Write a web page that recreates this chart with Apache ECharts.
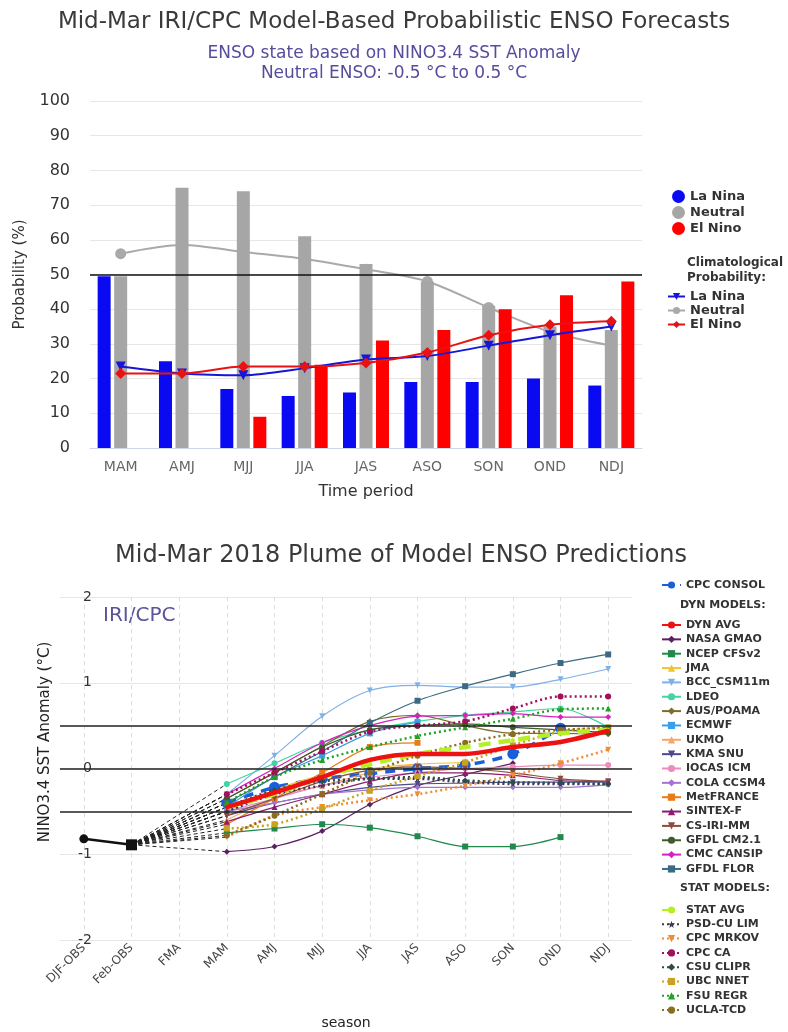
<!DOCTYPE html>
<html>
<head>
<meta charset="UTF-8">
<script src="https://cdn.jsdelivr.net/npm/echarts@6/dist/echarts.min.js"></script>
<style>
  html, body { margin: 0; padding: 0; background: #fff; }
  #main { width: 788px; height: 1032px; }
</style>
</head>
<body>
<div id="main"></div>
<script>
// ---- top chart: probabilities (%) ----
const periods = ['MAM', 'AMJ', 'MJJ', 'JJA', 'JAS', 'ASO', 'SON', 'OND', 'NDJ'];
const laNina  = [49.5, 25, 17, 15, 16, 19, 19, 20, 18];
const neutral = [49.5, 75, 74, 61, 53, 48, 41, 35, 34];
const elNino  = [0, 0, 9, 24, 31, 34, 40, 44, 48];
const climLaNina  = [23.5, 21.5, 21, 23, 25.5, 26.5, 29.5, 32.5, 35];
const climNeutral = [56, 58.5, 56.5, 54.5, 51.5, 48, 40.5, 33.5, 29.5];
const climElNino  = [21.5, 21.5, 23.5, 23.5, 24.5, 27.5, 32.5, 35.5, 36.5];

// ---- bottom chart: plume (deg C), forecasts MAM..NDJ ----
const seasons = ['DJF-OBS', 'Feb-OBS', 'FMA', 'MAM', 'AMJ', 'MJJ', 'JJA', 'JAS', 'ASO', 'SON', 'OND', 'NDJ'];
const obs = [-0.82, -0.89];

const cpcConsol  = [-0.40, -0.22, -0.12, -0.06, 0.00, 0.04, 0.17, 0.47, null];
const dynAvg     = [-0.45, -0.28, -0.10, 0.10, 0.17, 0.17, 0.25, 0.31, 0.44];
const nasaGmao   = [-0.97, -0.91, -0.73, -0.42, -0.20, -0.07, 0.06, null, null];
const ncepCfs    = [-0.75, -0.70, -0.65, -0.69, -0.79, -0.91, -0.91, -0.80, null];
const jma        = [-0.50, -0.25, -0.08, 0.00, 0.05, 0.07, null, null, null];
const bcc        = [-0.30, 0.15, 0.61, 0.91, 0.97, 0.95, 0.95, 1.04, 1.16];
const ldeo       = [-0.18, 0.06, 0.30, 0.45, 0.55, 0.62, 0.66, 0.70, 0.48];
const ausPoama   = [-0.35, -0.05, 0.26, 0.55, 0.62, 0.50, 0.41, 0.41, 0.40];
const ecmwf      = [-0.45, -0.10, 0.15, 0.41, 0.54, null, null, null, null];
const ukmo       = [-0.60, -0.35, -0.20, -0.05, 0.05, null, null, null, null];
const kmaSnu     = [-0.55, -0.40, -0.30, -0.22, -0.18, -0.17, -0.16, -0.16, -0.16];
const iocas      = [-0.50, -0.35, -0.20, -0.10, -0.05, 0.00, 0.02, 0.04, 0.04];
const colaCcsm4  = [-0.50, -0.40, -0.30, -0.25, -0.22, -0.22, -0.22, -0.22, -0.19];
const metFrance  = [-0.65, -0.35, -0.05, 0.25, 0.30, null, null, null, null];
const sintexF    = [-0.62, -0.45, -0.30, -0.15, -0.05, -0.05, -0.08, -0.14, -0.15];
const csIriMm    = [-0.55, -0.35, -0.15, -0.02, 0.02, 0.00, -0.05, -0.12, -0.15];
const gfdlCm21   = [-0.35, -0.05, 0.25, 0.45, 0.50, 0.52, 0.48, 0.45, 0.42];
const cmcCansip  = [-0.30, 0.00, 0.30, 0.50, 0.61, 0.62, 0.64, 0.60, 0.60];
const gfdlFlor   = [-0.40, -0.10, 0.20, 0.53, 0.79, 0.96, 1.10, 1.23, 1.33];
const statAvg    = [-0.45, -0.30, -0.10, 0.05, 0.17, 0.25, 0.33, 0.41, 0.45];
const psdCuLim   = [-0.50, -0.30, -0.20, -0.12, -0.12, -0.16, -0.18, -0.18, -0.18];
const cpcMrkov   = [-0.80, -0.55, -0.45, -0.37, -0.30, -0.20, -0.08, 0.06, 0.22];
const cpcCa      = [-0.30, -0.05, 0.20, 0.43, 0.50, 0.55, 0.70, 0.84, 0.84];
const csuClipr   = [-0.45, -0.25, -0.15, -0.12, -0.10, -0.14, -0.16, -0.17, -0.18];
const ubcNnet    = [-0.70, -0.65, -0.47, -0.26, -0.09, 0.07, 0.27, 0.43, 0.48];
const fsuRegr    = [-0.40, -0.10, 0.10, 0.25, 0.38, 0.48, 0.58, 0.69, 0.70];
const uclaTcd    = [-0.78, -0.55, -0.30, -0.05, 0.15, 0.30, 0.40, 0.45, 0.47];

const star = 'path://M5,0 L6.2,3.6 L10,3.6 L7,5.9 L8.1,9.5 L5,7.3 L1.9,9.5 L3,5.9 L0,3.6 L3.8,3.6 Z';

// name, values, color, symbol, kind
const plume = [
  ['CPC CONSOL', cpcConsol, '#1a5fd8', 'circle', 'consol'],
  ['DYN AVG', dynAvg, '#ee1111', 'circle', 'avg'],
  ['NASA GMAO', nasaGmao, '#5b1f63', 'diamond', 'dyn'],
  ['NCEP CFSv2', ncepCfs, '#1f8a4c', 'rect', 'dyn'],
  ['JMA', jma, '#f2c230', 'triangle', 'dyn'],
  ['BCC_CSM11m', bcc, '#7fb0e8', 'down', 'dyn'],
  ['LDEO', ldeo, '#3fd6a0', 'circle', 'dyn'],
  ['AUS/POAMA', ausPoama, '#7d6c2a', 'diamond', 'dyn'],
  ['ECMWF', ecmwf, '#3a9fe8', 'rect', 'dyn'],
  ['UKMO', ukmo, '#f5a66c', 'triangle', 'dyn'],
  ['KMA SNU', kmaSnu, '#4a4a8c', 'down', 'dyn'],
  ['IOCAS ICM', iocas, '#ea8cbc', 'circle', 'dyn'],
  ['COLA CCSM4', colaCcsm4, '#a474d2', 'diamond', 'dyn'],
  ['MetFRANCE', metFrance, '#e87b1c', 'rect', 'dyn'],
  ['SINTEX-F', sintexF, '#8c1c6c', 'triangle', 'dyn'],
  ['CS-IRI-MM', csIriMm, '#8c4c3c', 'down', 'dyn'],
  ['GFDL CM2.1', gfdlCm21, '#3c5c2c', 'circle', 'dyn'],
  ['CMC CANSIP', cmcCansip, '#d422c2', 'diamond', 'dyn'],
  ['GFDL FLOR', gfdlFlor, '#3c6a82', 'rect', 'dyn'],
  ['STAT AVG', statAvg, '#b4f024', 'circle', 'statavg'],
  ['PSD-CU LIM', psdCuLim, '#3a3a4c', star, 'stat'],
  ['CPC MRKOV', cpcMrkov, '#f08c32', 'down', 'stat'],
  ['CPC CA', cpcCa, '#a2105c', 'circle', 'stat'],
  ['CSU CLIPR', csuClipr, '#2c4c4c', 'diamond', 'stat'],
  ['UBC NNET', ubcNnet, '#c8a222', 'rect', 'stat'],
  ['FSU REGR', fsuRegr, '#22a222', 'triangle', 'stat'],
  ['UCLA-TCD', uclaTcd, '#8c6c22', 'circle', 'stat']
];

const font = 'DejaVu Sans';
const pad = seasons.length - periods.length;

function plumeSeries(p) {
  const [name, vals, color, symbol, kind] = p;
  const s = {
    name, type: 'line', xAxisIndex: 1, yAxisIndex: 1,
    data: new Array(pad).fill(null).concat(vals),
    smooth: 0.3, symbol: symbol === 'down' ? 'triangle' : symbol,
    symbolRotate: symbol === 'down' ? 180 : 0,
    symbolSize: 6, color, z: 3,
    lineStyle: { width: 1.2, color },
    itemStyle: { color }
  };
  if (kind === 'stat') { s.lineStyle.type = [2, 3]; s.lineStyle.width = 2.5; s.z = 4; }
  if (kind === 'avg') { s.lineStyle.width = 4.5; s.symbolSize = 4; s.z = 6; }
  if (kind === 'statavg') { s.lineStyle.width = 4.5; s.lineStyle.type = [12, 8]; s.symbolSize = 4; s.z = 5; }
  if (kind === 'consol') { s.lineStyle.width = 3.5; s.lineStyle.type = [10, 8]; s.symbolSize = 11; s.z = 3; }
  return s;
}

// dashed connectors from last observation to each model's first forecast
const connectors = plume.map((p, i) => ({
  name: '_c' + i, type: 'line', xAxisIndex: 1, yAxisIndex: 1, silent: true,
  data: seasons.map((s, k) => k === 1 ? obs[1] : (k === pad ? p[1][0] : null)),
  connectNulls: true, symbol: 'none', z: 2,
  lineStyle: { color: '#222', width: 1, type: [4, 3] }
}));

const chart = echarts.init(document.getElementById('main'));
const legendText = { fontFamily: font, fontWeight: 'bold', fontSize: 13, color: '#333', lineHeight: 13 };
const smallLegendText = { fontFamily: font, fontWeight: 'bold', fontSize: 11, color: '#333', lineHeight: 12 };

chart.setOption({
  animation: false,
  textStyle: { fontFamily: font },
  title: [
    { text: 'Mid-Mar IRI/CPC Model-Based Probabilistic ENSO Forecasts', left: 'center', top: 6,
      textStyle: { fontFamily: font, fontWeight: 'normal', fontSize: 23, color: '#3a3a3a' },
      subtext: 'ENSO state based on NINO3.4 SST Anomaly\nNeutral ENSO: -0.5 °C to 0.5 °C', itemGap: 10,
      subtextStyle: { fontFamily: font, fontSize: 17, lineHeight: 20, color: '#554c9e', align: 'center' } },
    { text: 'Mid-Mar 2018 Plume of Model ENSO Predictions', left: 110, top: 539,
      textStyle: { fontFamily: font, fontWeight: 'normal', fontSize: 24, color: '#3a3a3a' } }
  ],
  legend: [
    { data: ['La Nina', 'Neutral', 'El Nino'], orient: 'vertical', left: 667, top: 185,
      icon: 'circle', itemWidth: 13, itemHeight: 13, itemGap: 3, textStyle: legendText },
    { data: ['Clim La Nina', 'Clim Neutral', 'Clim El Nino'], orient: 'vertical', left: 662, top: 285,
      itemWidth: 17, itemHeight: 9, itemGap: 1, textStyle: legendText,
      formatter: n => n.replace('Clim ', '') },
    { data: ['CPC CONSOL'], orient: 'vertical', left: 656, top: 574,
      itemWidth: 19, itemHeight: 9, textStyle: smallLegendText },
    { data: plume.slice(1, 19).map(p => p[0]), orient: 'vertical', left: 656, top: 614,
      itemWidth: 19, itemHeight: 9, itemGap: 2.35, textStyle: smallLegendText },
    { data: plume.slice(19).map(p => p[0]), orient: 'vertical', left: 656, top: 899,
      itemWidth: 19, itemHeight: 9, itemGap: 2.3, textStyle: smallLegendText }
  ],
  graphic: [
    { type: 'text', left: 687, top: 255,
      style: { text: 'Climatological\nProbability:', font: 'bold 12px DejaVu Sans', lineHeight: 15, fill: '#333' } },
    { type: 'text', left: 680, top: 600,
      style: { text: 'DYN MODELS:', font: 'bold 11px DejaVu Sans', fill: '#333' } },
    { type: 'text', left: 680, top: 883,
      style: { text: 'STAT MODELS:', font: 'bold 11px DejaVu Sans', fill: '#333' } },
    { type: 'text', left: 103, top: 606,
      style: { text: 'IRI/CPC', font: '20px DejaVu Sans', fill: '#5b5498' } },
    { type: 'text', x: 45, y: 742, rotation: Math.PI / 2,
      style: { text: 'NINO3.4 SST Anomaly (°C)', font: '15px DejaVu Sans', fill: '#222', align: 'center', verticalAlign: 'middle' } }
  ],
  grid: [
    { left: 90, right: 146, top: 101, height: 347 },
    { left: 60, right: 156, top: 597, height: 343 }
  ],
  xAxis: [
    { type: 'category', gridIndex: 0, data: periods,
      axisLine: { lineStyle: { color: '#ccd6eb' } },
      axisTick: { length: 10, lineStyle: { color: '#ccd6eb' } },
      axisLabel: { color: '#666', fontSize: 14, margin: 12 },
      name: 'Time period', nameLocation: 'middle', nameGap: 36,
      nameTextStyle: { fontSize: 16, color: '#333' } },
    { type: 'category', gridIndex: 1, data: seasons,
      axisLine: { lineStyle: { color: '#ddd' } },
      axisTick: { show: false },
      axisLabel: { rotate: 45, color: '#444', fontSize: 12, margin: 6 },
      splitLine: { show: true, alignWithLabel: true, lineStyle: { color: '#ddd', type: [4, 4] } },
      name: 'season', nameLocation: 'middle', nameGap: 76,
      nameTextStyle: { fontSize: 14, color: '#222' } }
  ],
  yAxis: [
    { type: 'value', gridIndex: 0, min: 0, max: 100, interval: 10,
      axisLabel: { color: '#333', fontSize: 16, margin: 20 },
      splitLine: { lineStyle: { color: '#e6e6e6' } },
      name: 'Probability (%)', nameLocation: 'middle', nameGap: 62,
      nameTextStyle: { fontSize: 15, color: '#333' } },
    { type: 'value', gridIndex: 1, min: -2, max: 2, interval: 1,
      axisLabel: { inside: true, align: 'right', margin: 32, color: '#333', fontSize: 14 },
      splitLine: { lineStyle: { color: '#e6e6e6' } } }
  ],
  series: [
    { name: 'Clim Neutral', type: 'line', data: climNeutral, smooth: 0.3, z: 1,
      symbol: 'circle', symbolSize: 11, color: '#a9a9a9', lineStyle: { width: 2 } },
    { name: 'La Nina', type: 'bar', data: laNina, barWidth: 13, barGap: '27%', color: '#0a0af2', z: 2,
      markLine: { silent: true, symbol: 'none', label: { show: false },
        lineStyle: { color: '#111', width: 1.5, type: 'solid' }, data: [{ yAxis: 50 }] } },
    { name: 'Neutral', type: 'bar', data: neutral, barWidth: 13, barGap: '27%', color: '#a6a6a6', z: 2 },
    { name: 'El Nino', type: 'bar', data: elNino, barWidth: 13, barGap: '27%', color: '#ff0000', z: 2 },
    { name: 'Clim La Nina', type: 'line', data: climLaNina, smooth: 0.3, z: 3,
      symbol: 'triangle', symbolRotate: 180, symbolSize: 10, color: '#1616d6', lineStyle: { width: 2 } },
    { name: 'Clim El Nino', type: 'line', data: climElNino, smooth: 0.3, z: 3,
      symbol: 'diamond', symbolSize: 11, color: '#e81212', lineStyle: { width: 2 } },
    { name: 'OBS', type: 'line', xAxisIndex: 1, yAxisIndex: 1, z: 8,
      data: seasons.map((s, k) => k < obs.length
        ? { value: obs[k], symbol: k === 0 ? 'circle' : 'rect', symbolSize: k === 0 ? 9 : 11 } : null),
      color: '#111', lineStyle: { width: 2.5, color: '#111' },
      markLine: { silent: true, symbol: 'none', label: { show: false },
        lineStyle: { color: '#222', width: 1.5, type: 'solid' },
        data: [{ yAxis: 0.5 }, { yAxis: 0 }, { yAxis: -0.5 }] } },
    ...connectors,
    ...plume.map(plumeSeries)
  ]
});
</script>
</body>
</html>
